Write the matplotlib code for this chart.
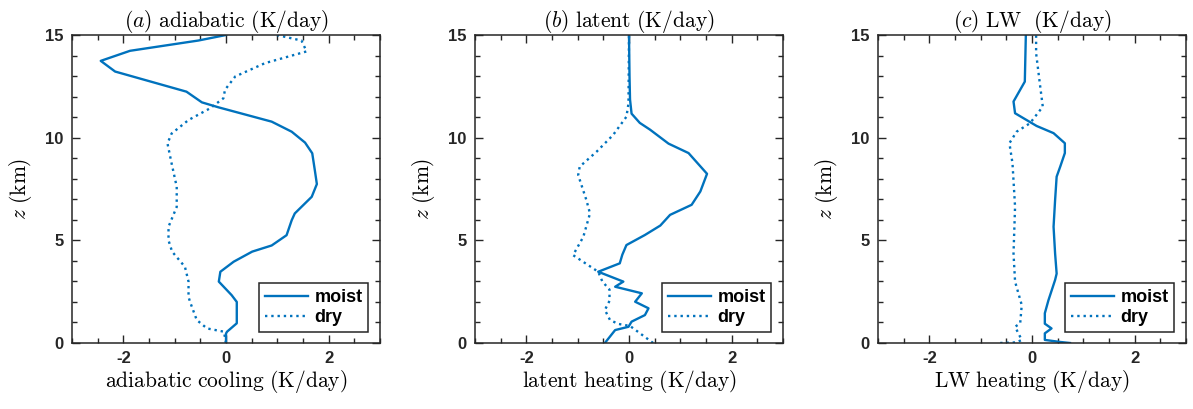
import numpy as np
import matplotlib.pyplot as plt
from matplotlib.ticker import MultipleLocator

# Profiles: (value in K/day, height in km)
ADIA_MOIST_X = [0.0, 0.0, 0.02, 0.21, 0.21, 0.11, -0.14, -0.11, 0.15, 0.51, 0.89, 1.18, 1.28, 1.34,
                1.67, 1.77, 1.73, 1.68, 1.54, 1.28, 0.89, -0.15, -0.47, -0.77, -2.16, -2.44, -1.87, -0.54, 0.0]
ADIA_MOIST_Z = [0.0, 0.46, 0.55, 0.96, 2.0, 2.33, 2.99, 3.47, 3.96, 4.45, 4.75, 5.25, 5.98, 6.31,
                7.12, 7.74, 8.42, 9.24, 9.76, 10.29, 10.78, 11.48, 11.72, 12.24, 13.22, 13.74, 14.23, 14.73, 15.0]
ADIA_DRY_X = [0.0, -0.04, -0.37, -0.57, -0.70, -0.73, -0.73, -0.80, -1.05, -1.12, -1.12, -0.96, -0.96,
              -1.06, -1.14, -1.06, -0.73, -0.31, -0.05, -0.02, 0.18, 0.76, 1.57, 1.47, 0.99]
ADIA_DRY_Z = [0.0, 0.55, 0.71, 1.12, 2.0, 2.25, 2.99, 3.71, 4.45, 5.0, 5.66, 6.63, 7.61,
              8.75, 9.72, 10.2, 10.86, 11.43, 11.92, 12.33, 12.98, 13.63, 14.2, 14.73, 15.0]

LAT_MOIST_X = [-0.47, -0.27, -0.01, 0.05, 0.31, 0.38, 0.12, 0.25, -0.27, -0.11, -0.60, -0.18, -0.13,
               -0.05, 0.31, 0.61, 0.80, 1.22, 1.39, 1.52, 1.16, 0.77, 0.41, 0.21, 0.05, 0.02, 0.01, 0.0]
LAT_MOIST_Z = [0.0, 0.63, 0.79, 1.04, 1.36, 1.69, 2.01, 2.42, 2.74, 2.99, 3.47, 3.88, 4.3,
               4.77, 5.26, 5.72, 6.24, 6.73, 7.38, 8.24, 9.25, 9.71, 10.39, 10.72, 11.17, 11.86, 13.0, 15.0]
LAT_DRY_X = [0.47, 0.02, -0.21, -0.37, -0.47, -0.38, -0.38, -0.52, -0.60, -1.09, -0.89, -0.76, -0.83,
             -0.99, -0.96, -0.63, -0.31, -0.05, -0.01, 0.0]
LAT_DRY_Z = [0.0, 0.83, 0.93, 1.12, 1.61, 2.05, 2.6, 3.0, 3.47, 4.28, 5.17, 6.31, 6.96,
             8.18, 8.59, 9.32, 10.13, 11.02, 11.67, 15.0]

LW_MOIST_X = [0.74, 0.55, 0.25, 0.25, 0.38, 0.25, 0.25, 0.32, 0.45, 0.48, 0.45, 0.42, 0.45, 0.48,
              0.55, 0.64, 0.64, 0.42, 0.09, -0.33, -0.36, -0.14, -0.12]
LW_MOIST_Z = [0.0, 0.05, 0.15, 0.47, 0.71, 0.94, 1.45, 2.08, 3.07, 3.38, 4.36, 5.66, 6.96, 8.1,
              8.59, 9.25, 9.73, 10.22, 10.57, 11.19, 11.76, 12.73, 15.0]
LW_DRY_X = [-0.62, -0.3, -0.2, -0.33, -0.23, -0.2, -0.33, -0.36, -0.33, -0.38, -0.44, -0.30, -0.04,
            0.21, 0.16, 0.08, 0.08]
LW_DRY_Z = [0.0, 0.03, 0.15, 0.79, 0.96, 1.85, 2.99, 4.36, 6.63, 8.75, 9.73, 10.29, 10.7,
            11.51, 12.49, 14.11, 15.0]

TITLES = [r"$(a)\ \mathrm{adiabatic\ (K/day)}$",
          r"$(b)\ \mathrm{latent\ (K/day)}$",
          r"$(c)\ \mathrm{LW\ \ (K/day)}$"]
XLABELS = [r"$\mathrm{adiabatic\ cooling\ (K/day)}$",
           r"$\mathrm{latent\ heating\ (K/day)}$",
           r"$\mathrm{LW\ heating\ (K/day)}$"]

COLOR = "#0072BD"

plt.rcParams["mathtext.fontset"] = "cm"
plt.rcParams["axes.unicode_minus"] = False
plt.rcParams["font.family"] = ["Liberation Sans", "DejaVu Sans"]

fig = plt.figure(figsize=(11.93, 4.09), dpi=100)
lefts = [72, 475, 878]
data = [
    (ADIA_MOIST_X, ADIA_MOIST_Z, ADIA_DRY_X, ADIA_DRY_Z),
    (LAT_MOIST_X, LAT_MOIST_Z, LAT_DRY_X, LAT_DRY_Z),
    (LW_MOIST_X, LW_MOIST_Z, LW_DRY_X, LW_DRY_Z),
]

for i, (mx, mz, dx, dz) in enumerate(data):
    ax = fig.add_axes([lefts[i] / 1193, 66 / 409, 308 / 1193, 308 / 409])
    ax.plot(mx, mz, color=COLOR, lw=1.7, label="moist")
    ax.plot(dx, dz, color=COLOR, lw=1.7, ls=":", label="dry")
    ax.set_xlim(-3, 3)
    ax.set_ylim(0, 15)
    ax.set_xticks([-2, 0, 2])
    ax.set_yticks([0, 5, 10, 15])
    ax.xaxis.set_minor_locator(MultipleLocator(0.5))
    ax.yaxis.set_minor_locator(MultipleLocator(1))
    ax.tick_params(which="both", direction="in", top=True, right=True, color="#262626", width=1)
    ax.tick_params(which="major", length=6, labelsize=12, pad=6)
    ax.tick_params(which="minor", length=3.5)
    for lab in ax.get_xticklabels() + ax.get_yticklabels():
        lab.set_fontweight("bold")
        lab.set_color("#262626")
    for sp in ax.spines.values():
        sp.set_linewidth(1.1)
        sp.set_color("#262626")
    ax.set_title(TITLES[i], fontsize=15.5, pad=4)
    ax.set_xlabel(XLABELS[i], fontsize=15.5, labelpad=1)
    ax.set_ylabel(r"$z\ \mathrm{(km)}$", fontsize=15.5, labelpad=8)
    leg = ax.legend(loc="lower right", bbox_to_anchor=(0.961, 0.036), borderaxespad=0,
                    fancybox=False, edgecolor="#262626", framealpha=1, handlelength=2.4,
                    handletextpad=0.35, borderpad=0.3, labelspacing=0.2,
                    prop={"weight": "bold", "size": 13})
    leg.get_frame().set_linewidth(1.1)

fig.savefig("out.png", dpi=100)
